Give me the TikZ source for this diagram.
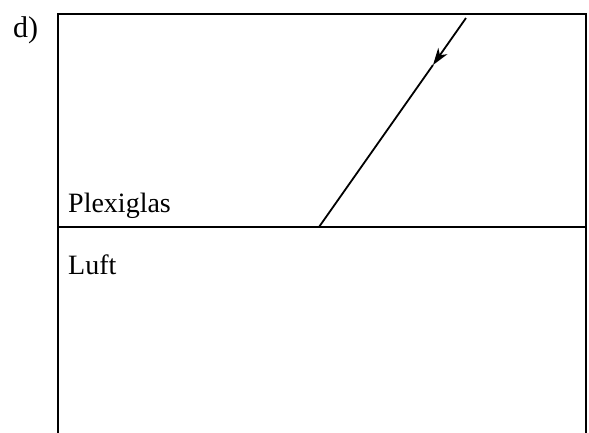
\documentclass[tikz,border=0pt]{standalone}
\usepackage{fontspec}
\setmainfont{Liberation Serif}
\usetikzlibrary{arrows.meta}
\begin{document}
\begin{tikzpicture}[x=1pt,y=-1pt,
  lab/.style={anchor=base west,inner sep=0pt,font=\fontsize{28}{33}\selectfont},
  border/.style={line width=2pt,line cap=rect,line join=miter},
  ray/.style={line width=1.8pt}]
\useasboundingbox (0,0) rectangle (589,432);
\clip (0,0) rectangle (589,432);
\coordinate (bl) at (58,440);
\coordinate (tl) at (58,14);
\coordinate (tr) at (586,14);
\coordinate (br) at (586,440);
\coordinate (il) at (58,227);
\coordinate (ir) at (586,227);
\coordinate (rs) at (466,18);
\coordinate (rm) at (433,65);
\coordinate (re) at (319,227);
\draw[border] (bl) -- (tl) -- (tr) -- (br);
\draw[border] (il) -- (ir);
\draw[ray,-{Stealth[length=17pt,width=11pt,inset=5pt]}] (rs) -- (rm);
\draw[ray] (rm) -- (re);
\node[lab,font=\fontsize{30}{35}\selectfont] (d) at (13,37) {d)};
\node[lab] (plexi) at (68,212) {Plexiglas};
\node[lab] (luft) at (68,274) {Luft};
\end{tikzpicture}
\end{document}
